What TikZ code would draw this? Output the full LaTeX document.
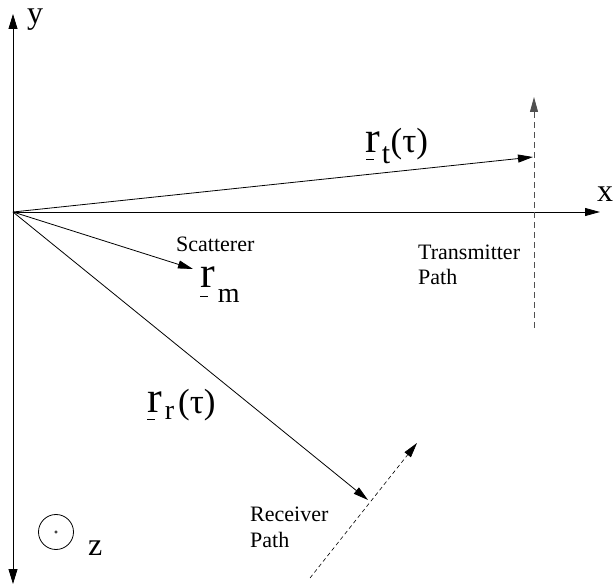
\documentclass[tikz,border=0pt]{standalone}
\usepackage{fontspec}
\setmainfont{Liberation Serif}
\usetikzlibrary{arrows.meta}
\definecolor{pathgray}{RGB}{80,80,80}
\newcommand{\ulr}[2]{\rlap{\hspace{#1}\rule[#2]{8pt}{0.9pt}}r}

\begin{document}
\begin{tikzpicture}[
    x=1pt, y=-1pt,
    axis/.style={line width=0.8pt, {Triangle[length=15pt,width=9pt]}-{Triangle[length=15pt,width=9pt]}},
    vec/.style={line width=0.8pt, -{Triangle[length=15pt,width=8pt]}},
    txpath/.style={line width=0.9pt, pathgray, dash pattern=on 6pt off 4pt, -{Triangle[length=15pt,width=8pt]}},
    rxpath/.style={line width=0.6pt, dash pattern=on 4pt off 3pt, -{Triangle[length=15pt,width=8pt]}},
    axislabel/.style={inner sep=0pt, anchor=base west, font=\fontsize{32}{32}\selectfont},
    smalllabel/.style={inner sep=0pt, anchor=base west, align=left, font=\fontsize{22}{25}\selectfont},
    veclabel/.style={inner sep=0pt, anchor=base west}
]
\useasboundingbox (0,0) rectangle (614,588);

\coordinate (O) at (13,212);
\coordinate (ytop) at (13,14);
\coordinate (ybot) at (13,584);
\coordinate (xend) at (600,212);
\coordinate (tx) at (533,157);
\coordinate (sc) at (193,269);
\coordinate (rx) at (368,500);
\coordinate (tpbot) at (534,328);
\coordinate (tptop) at (534,97);
\coordinate (rpbot) at (310,578);
\coordinate (rptop) at (417,443);

\draw[axis] (ybot) -- (ytop);
\draw[vec] (O) -- (xend);
\draw[vec] (O) -- (tx);
\draw[vec] (O) -- (sc);
\draw[vec] (O) -- (rx);
\draw[txpath] (tpbot) -- (tptop);
\draw[rxpath] (rpbot) -- (rptop);

\node (ylabel) [axislabel] at (27,24) {y};
\node (xlabel) [axislabel] at (597,202) {x};
\node (zlabel) [axislabel] at (88,555) {z};

\node (zcirc) [circle, draw, line width=0.8pt, minimum size=35pt, inner sep=0pt] at (56,532) {};
\draw[line width=0.6pt] (zcirc.center) circle (1.3pt);

\node (rtlabel) [veclabel] at (365,153) {%
  {\fontsize{44}{44}\selectfont\ulr{1pt}{-6.5pt}}\kern2pt
  {\fontsize{30}{30}\selectfont\raisebox{-11pt}{t}}\kern0.5pt
  {\fontsize{35}{35}\selectfont(τ)}};
\node (rrlabel) [veclabel] at (147,413) {%
  {\fontsize{44}{44}\selectfont\ulr{0pt}{-6.5pt}}\kern3pt
  {\fontsize{28}{28}\selectfont\raisebox{-7pt}{r}}\kern4pt
  {\fontsize{35}{35}\selectfont\raisebox{-1pt}{(τ)}}};
\node (rmlabel) [veclabel] at (200,288) {%
  {\fontsize{44}{44}\selectfont\ulr{0pt}{-8.5pt}}\kern3pt
  {\fontsize{28}{28}\selectfont\raisebox{-15pt}{m}}};

\node (scatterer) [smalllabel] at (176,252) {Scatterer};
\node (txtext) [smalllabel] at (418,285) {Transmitter\\Path};
\node (rxtext) [smalllabel] at (250,547) {Receiver\\Path};
\end{tikzpicture}
\end{document}
